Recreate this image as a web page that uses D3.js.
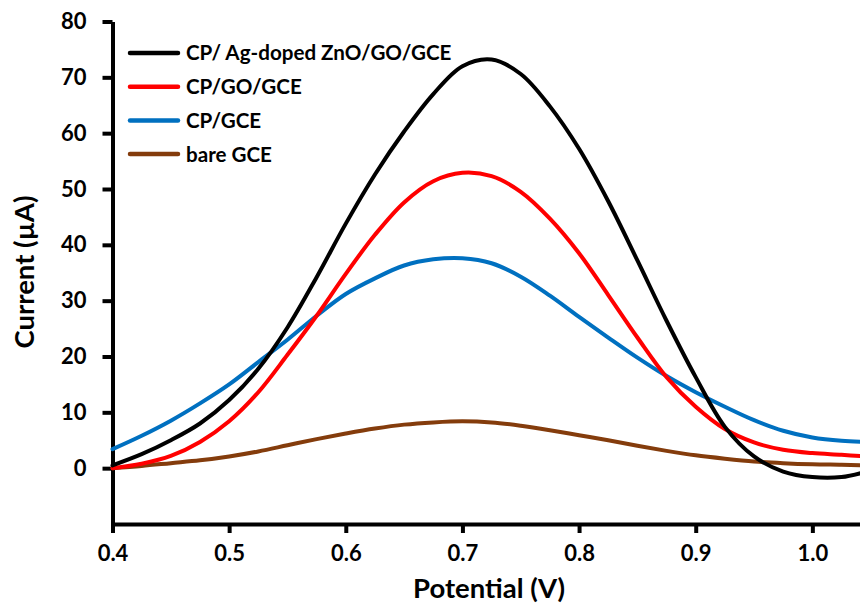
<!DOCTYPE html>
<html>
<head>
<meta charset="utf-8">
<script src="https://cdn.jsdelivr.net/npm/d3@7"></script>
<style>
  body { margin: 0; background: #fff; }
  text { font-family: Lato, "Noto Sans", sans-serif; font-weight: bold; }
</style>
</head>
<body>
<div id="chart"></div>
<script>
// potential (V) sample points
const potential = [0.400, 0.425, 0.450, 0.475, 0.500, 0.525, 0.550, 0.575, 0.600, 0.625,
                   0.650, 0.675, 0.700, 0.725, 0.750, 0.775, 0.800, 0.825, 0.850, 0.875,
                   0.900, 0.925, 0.950, 0.975, 1.000, 1.025, 1.045];

// current (uA) per electrode
const agZnoGo = [0.5, 2.5, 5, 8, 12.2, 17.8, 25.2, 34.2, 43.8, 52.6,
                 60.3, 67, 72, 73.2, 70.6, 64.8, 57.2, 47.8, 37.2, 26.4,
                 16.3, 7.4, 2.1, -0.6, -1.6, -1.6, -0.7];
const cpGo    = [0, 0.8, 2.2, 4.7, 8.4, 13.6, 20.3, 27.3, 34.8, 41.8,
                 47.6, 51.4, 52.9, 52.3, 49.5, 44.7, 38.5, 31, 23.4, 16.3,
                 11, 7, 4.6, 3.3, 2.7, 2.4, 2.1];
const cpGce   = [3.4, 5.8, 8.5, 11.6, 15, 19, 23, 27.3, 31.2, 34,
                 36.3, 37.4, 37.6, 36.7, 34.3, 30.9, 27.1, 23.4, 19.8, 16.5,
                 13.6, 11, 8.6, 6.7, 5.5, 4.9, 4.7];
const bareGce = [0, 0.4, 0.9, 1.4, 2.1, 3, 4.1, 5.2, 6.2, 7.1,
                 7.8, 8.2, 8.4, 8.2, 7.6, 6.8, 5.9, 5, 4, 3.1,
                 2.3, 1.7, 1.2, 0.9, 0.7, 0.6, 0.5];

const seriesNames = ["CP/ Ag-doped ZnO/GO/GCE", "CP/GO/GCE", "CP/GCE", "bare GCE"];
const seriesColors = ["#000000", "#ff0000", "#0070c0", "#843c0c"];
const seriesValues = [agZnoGo, cpGo, cpGce, bareGce];

const xTicks = [0.4, 0.5, 0.6, 0.7, 0.8, 0.9, 1.0];
const yTicks = [0, 10, 20, 30, 40, 50, 60, 70, 80];

const width = 860, height = 604;

const svg = d3.select("#chart").append("svg")
    .attr("width", width)
    .attr("height", height);

const x = d3.scaleLinear().domain([0.4, 1.1]).range([112.5, 929]);
const y = d3.scaleLinear().domain([-10, 80]).range([524, 21.5]);

// axes
const xAxis = svg.append("g")
    .attr("transform", "translate(0," + y(-10) + ")")
    .call(d3.axisBottom(x).tickValues(xTicks).tickFormat(d3.format(".1f")).tickSize(9).tickSizeOuter(0).tickPadding(12));

const yAxis = svg.append("g")
    .attr("transform", "translate(" + x(0.4) + ",0)")
    .call(d3.axisLeft(y).tickValues(yTicks).tickFormat(d3.format("d")).tickSize(10).tickSizeOuter(0).tickPadding(16));

[xAxis, yAxis].forEach(function(ax) {
    ax.select(".domain").attr("stroke", "#000").attr("stroke-width", 4);
    ax.selectAll(".tick line").attr("stroke", "#000").attr("stroke-width", 4);
    ax.selectAll(".tick text")
        .attr("fill", "#000")
        .style("font-size", "22px")
        .style("font-family", "Lato, 'Noto Sans', sans-serif")
        .style("font-weight", "bold");
});

// curves
const line = d3.line()
    .x(function(d) { return x(d[0]); })
    .y(function(d) { return y(d[1]); })
    .curve(d3.curveCatmullRom.alpha(0.5));

// draw bottom series first so black ends up on top of the others
for (let i = seriesValues.length - 1; i >= 0; i--) {
    const pts = potential.map(function(p, j) { return [p, seriesValues[i][j]]; });
    svg.append("path")
        .datum(pts)
        .attr("fill", "none")
        .attr("stroke", seriesColors[i])
        .attr("stroke-width", 4)
        .attr("stroke-linecap", "round")
        .attr("d", line);
}

// legend
const legend = svg.append("g").attr("transform", "translate(130,53)");
seriesNames.forEach(function(name, i) {
    const row = legend.append("g").attr("transform", "translate(0," + i * 33.7 + ")");
    row.append("line")
        .attr("x1", 0).attr("x2", 48)
        .attr("stroke", seriesColors[i])
        .attr("stroke-width", 4.5)
        .attr("stroke-linecap", "round");
    row.append("text")
        .attr("x", 56)
        .attr("dy", "0.36em")
        .style("font-size", "20.6px")
        .text(name);
});

// axis titles
svg.append("text")
    .attr("x", 489)
    .attr("y", 598)
    .attr("text-anchor", "middle")
    .style("font-size", "27.5px")
    .text("Potential (V)");

svg.append("text")
    .attr("transform", "translate(34,272) rotate(-90)")
    .attr("text-anchor", "middle")
    .style("font-size", "27.5px")
    .text("Current (µA)");
</script>
</body>
</html>
